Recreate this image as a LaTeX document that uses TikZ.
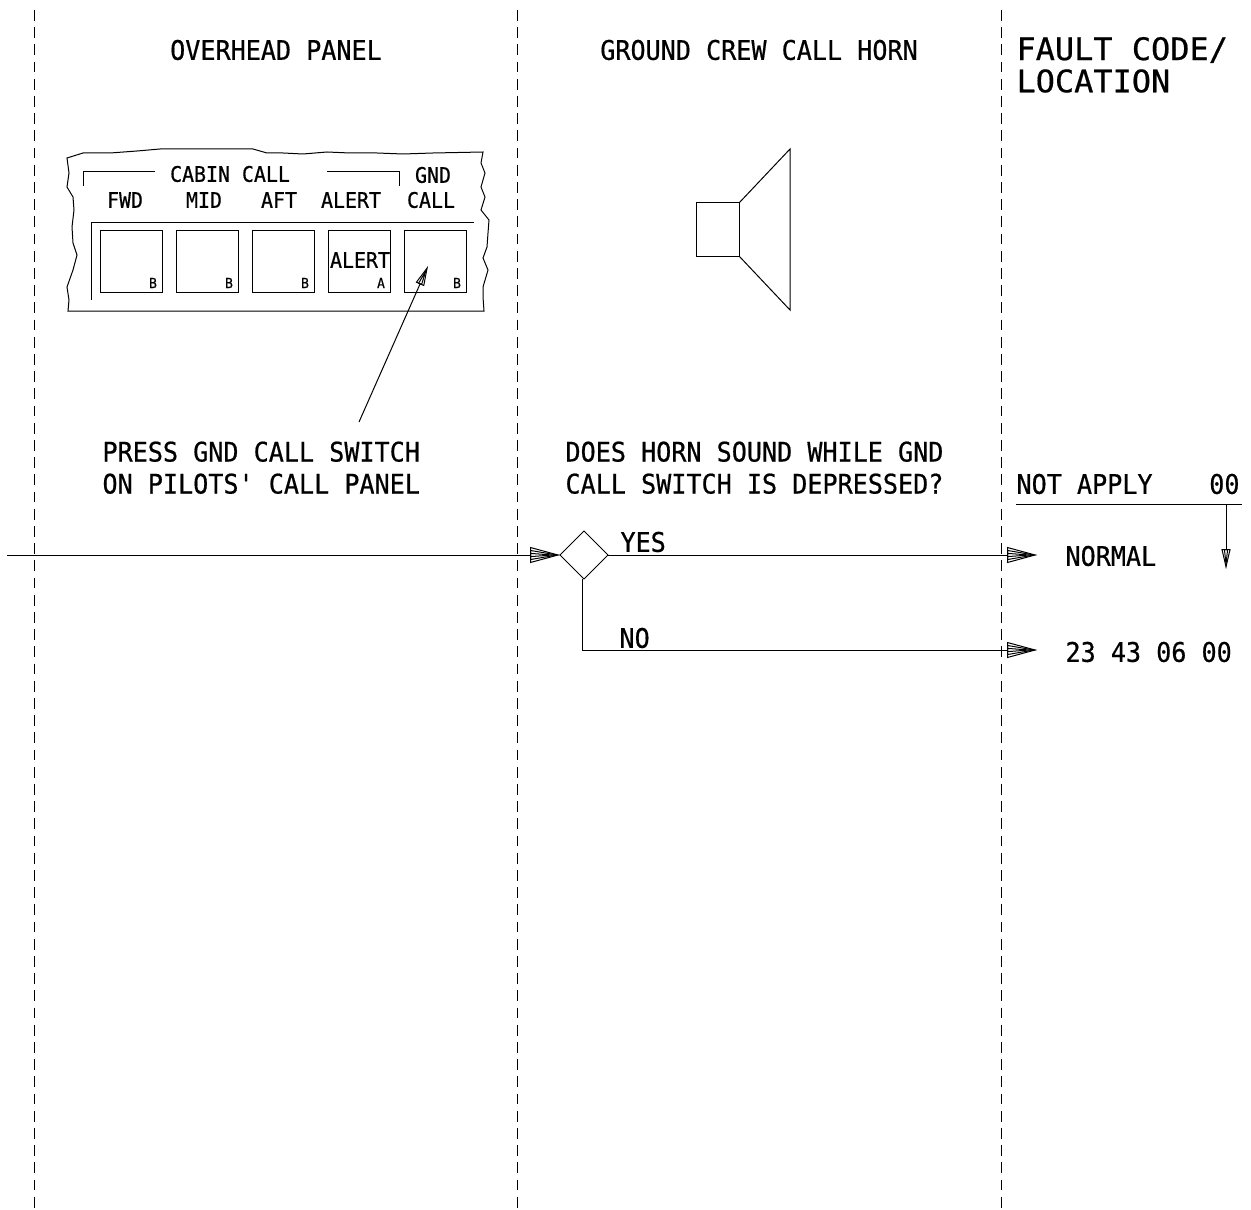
\documentclass[tikz,border=0pt]{standalone}
\usepackage{fontspec}
\setmonofont[FakeStretch=0.93,FakeBold=0.6]{DejaVu Sans Mono}
\usetikzlibrary{positioning,arrows.meta,shapes.geometric}

\begin{document}
\begin{tikzpicture}[
  x=0.5pt, y=-0.5pt, line width=0.5pt,
  txt/.style={font=\ttfamily\fontsize{13.5}{16}\selectfont, inner sep=0pt, align=left},
  lbl/.style={font=\ttfamily\fontsize{10.7}{12}\selectfont, inner sep=0pt},
  tiny/.style={font=\ttfamily\fontsize{7}{8}\selectfont, inner sep=0pt},
  switchbox/.style={draw, minimum size=31pt, inner sep=0pt, outer sep=0pt},
  column/.style={dash pattern=on 5.4pt off 3.2pt, line width=0.45pt},
  flow/.style={-{Triangle[open,length=15pt,width=8pt,sep=-15pt]Triangle[open,length=15pt,width=5pt,sep=-15pt]Triangle[open,length=15pt,width=2pt]}},
  lead/.style={-{Triangle[open,length=10pt,width=4.5pt,sep=-10pt]Triangle[open,length=10pt,width=2pt]}}
]
\useasboundingbox (0,0) rectangle (1251,1209);
% column rules
\coordinate (c1top) at (34,10);     \coordinate (c1bot) at (34,1209);
\coordinate (c2top) at (517,10);    \coordinate (c2bot) at (517,1209);
\coordinate (c3top) at (1001,10);   \coordinate (c3bot) at (1001,1209);
\draw[column] (c1top) -- (c1bot);
\draw[column] (c2top) -- (c2bot);
\draw[column] (c3top) -- (c3bot);
% headings
\node[txt] (overhead) at (276,50) {OVERHEAD PANEL};
\node[txt] (horntitle) at (759,50) {GROUND CREW CALL HORN};
\node[txt, anchor=west, font=\ttfamily\fontsize{15.5}{15}\selectfont\addfontfeature{FakeStretch=1.03}] (fault) at (1016,50) {FAULT CODE/};
\node[txt, anchor=west, font=\ttfamily\fontsize{15.5}{15}\selectfont\addfontfeature{FakeStretch=1.03}] (location) at (1016,81) {LOCATION};
% panel outline
\draw (67,158) -- (83,153) -- (110,153) -- (137,151) -- (160,149) -- (183,149) -- (223,149) -- (253,149)
  -- (267,153) -- (283,153) -- (303,154) -- (327,152) -- (350,153) -- (377,153) -- (403,154) -- (433,153) -- (483,152)
  -- (481,163) -- (485,173) -- (481,187) -- (485,197) -- (481,210) -- (489,220) -- (488,233) -- (487,247)
  -- (483,258) -- (488,270) -- (483,287) -- (483,297) -- (484,311) -- (68,311)
  -- (69,300) -- (67,287) -- (73,270) -- (77,255) -- (73,243) -- (72,227) -- (74,210) -- (73,197)
  -- (67,187) -- (69,173) -- cycle;
\draw (83,186) -- (83,172) -- (155,172);
\draw (327,172) -- (399,172) -- (399,186);
\draw (91,300) -- (91,223) -- (474,223);
\node[lbl] (cabin) at (230,174) {CABIN CALL};
\node[lbl] (gnd) at (433,175) {GND};
\node[lbl] (fwdlbl) at (125,200) {FWD};
\node[lbl] (midlbl) at (204,200) {MID};
\node[lbl] (aftlbl) at (279,200) {AFT};
\node[lbl] (alertlbl) at (351,200) {ALERT};
\node[lbl] (calllbl) at (431,200) {CALL};
% switches
\node[switchbox] (fwd) at (131,261.5) {};
\node[switchbox, right=7pt of fwd] (mid) {};
\node[switchbox, right=7pt of mid] (aft) {};
\node[switchbox, right=7pt of aft] (alert) {};
\node[switchbox, right=7pt of alert] (gndcall) {};
\node[tiny] (bfwd) at (153,283) {B};
\node[tiny] (bmid) at (229,283) {B};
\node[tiny] (baft) at (305,283) {B};
\node[tiny] (balert) at (381,283) {A};
\node[tiny] (bgnd) at (457,283) {B};
\node[lbl] (alerttxt) at (360,260) {ALERT};
% horn
\node[draw, minimum width=21.5pt, minimum height=26.5pt, inner sep=0pt, outer sep=0pt] (horn) at (717.5,229.5) {};
\coordinate (conetop) at (790,149);
\coordinate (conebot) at (790,310);
\draw (horn.north east) -- (conetop) -- (conebot) -- (horn.south east);
% questions
\node[txt, anchor=north west] (press) at (102,441) {PRESS GND CALL SWITCH\\ON PILOTS' CALL PANEL};
\node[txt, anchor=north west] (does) at (565,441) {DOES HORN SOUND WHILE GND\\CALL SWITCH IS DEPRESSED?};
\coordinate (leadstart) at (359,422);
\coordinate (leadend) at (428,266);
\draw[lead] (leadstart) -- (leadend);
% fault column
\node[txt, anchor=west] (notapply) at (1016,484) {NOT APPLY};
\node[txt, anchor=east] (zero) at (1240,484) {00};
\coordinate (ruleleft) at (1016,504);
\coordinate (ruleright) at (1242,504);
\draw (ruleleft) -- (ruleright);
\coordinate (downtop) at (1226,504);
\coordinate (downend) at (1226,569);
\draw[lead] (downtop) -- (downend);
% logic
\coordinate (entry) at (7,555);
\node[draw, diamond, minimum width=24pt, minimum height=24pt, inner sep=0pt, outer sep=0pt] (check) at (584,555) {};
\coordinate (yesend) at (1037,555);
\coordinate (noend) at (1037,650);
\draw[flow] (entry) -- (check.west);
\draw[flow] (check.east) -- (yesend);
\draw[flow] ([xshift=-1pt]check.south) |- (noend);
\node[txt, anchor=west] (yes) at (620,542) {YES};
\node[txt, anchor=west] (no) at (619,638) {NO};
\node[txt, anchor=west] (normal) at (1065,556) {NORMAL};
\node[txt, anchor=west] (code) at (1065,652) {23 43 06 00};
\end{tikzpicture}
\end{document}
